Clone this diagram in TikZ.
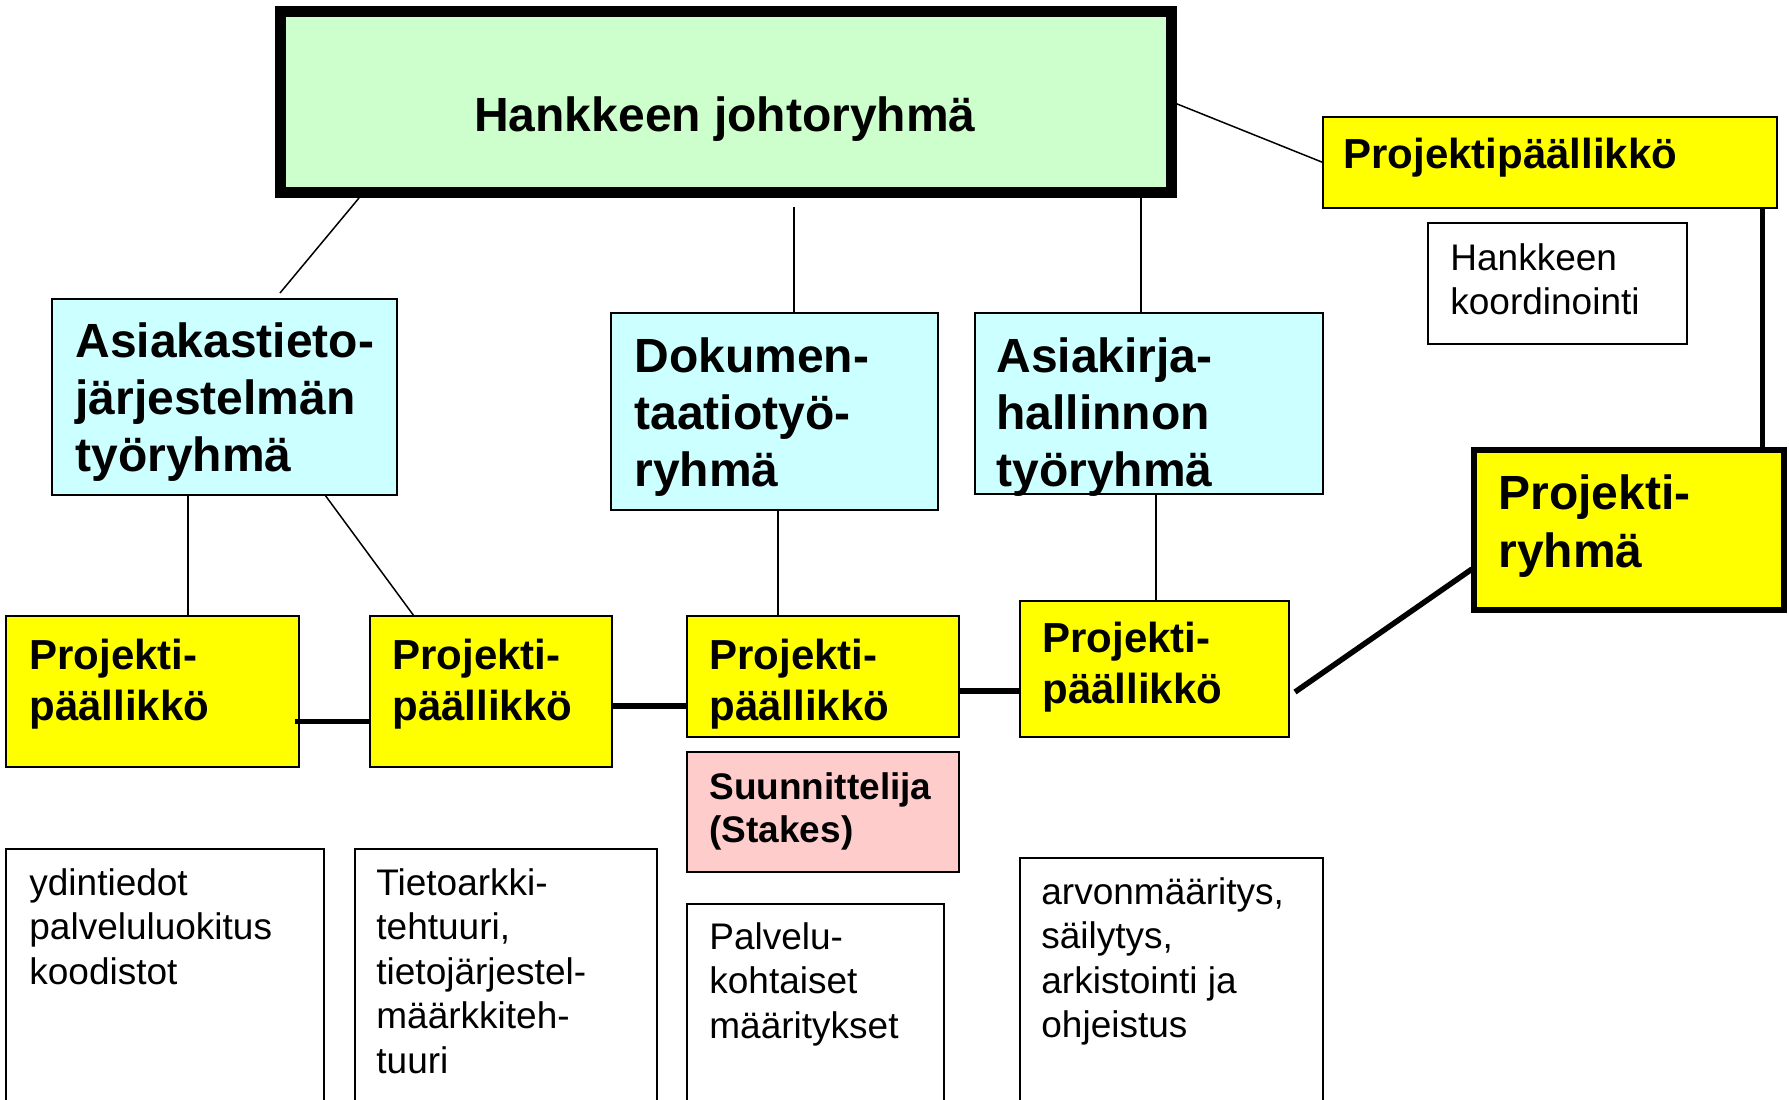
\documentclass[tikz,border=0pt]{standalone}
\usepackage{fontspec}
\setmainfont{Liberation Sans}
\usepackage{tikz}
\usetikzlibrary{positioning}
\usetikzlibrary{calc}
\definecolor{johtogreen}{RGB}{204,255,204}
\definecolor{tyocyan}{RGB}{204,255,255}
\definecolor{ppyellow}{RGB}{255,255,0}
\definecolor{suunpink}{RGB}{255,204,204}
\tikzstyle{chartbox} = [rectangle, draw=black, line width=1pt, inner sep=0pt, outer sep=0pt, anchor=north west]
\tikzstyle{board} = [chartbox, line width=5.5pt, fill=johtogreen]
\tikzstyle{workgroup} = [chartbox, fill=tyocyan]
\tikzstyle{manager} = [chartbox, fill=ppyellow]
\tikzstyle{projteam} = [chartbox, line width=3pt, fill=ppyellow]
\tikzstyle{designer} = [chartbox, fill=suunpink]
\tikzstyle{taskbox} = [chartbox, fill=white]
\tikzstyle{bigtext} = [inner sep=0pt, anchor=base west, align=left, font=\fontsize{24}{28.5}\selectfont\bfseries]
\tikzstyle{midtext} = [inner sep=0pt, anchor=base west, align=left, font=\fontsize{21}{25.5}\selectfont\bfseries]
\tikzstyle{smalltext} = [inner sep=0pt, anchor=base west, align=left, font=\fontsize{18.5}{21.5}\selectfont\bfseries]
\tikzstyle{plaintext} = [inner sep=0pt, anchor=base west, align=left, font=\fontsize{18.5}{22.25}\selectfont]
\tikzstyle{link} = [line width=0.75pt]
\tikzstyle{boldlink} = [line width=2.75pt]

\begin{document}
\begin{tikzpicture}[x=1pt, y=-1pt]
        \useasboundingbox (0,0) rectangle (894.5,549.5);

        % boxes
        \node (main) [board, minimum width=445.5pt, minimum height=90.5pt] at (140,5.5) {};
        \node (pptop) [manager, minimum width=227pt, minimum height=45.5pt] at (661.5,58.5) {};
        \node (koord) [taskbox, minimum width=129.5pt, minimum height=60.5pt] at (714,111.5) {};
        \node (asty) [workgroup, minimum width=172.5pt, minimum height=98pt] at (26,149.5) {};
        \node (doku) [workgroup, minimum width=163.5pt, minimum height=98.5pt] at (305.5,156.5) {};
        \node (akirja) [workgroup, minimum width=174pt, minimum height=90.5pt] at (487.5,156.5) {};
        \node (pryhma) [projteam, minimum width=155pt, minimum height=80pt] at (737,225) {};
        \node (pp1) [manager, minimum width=146.5pt, minimum height=75.5pt] at (3,308) {};
        \node (pp2) [manager, minimum width=121pt, minimum height=75.5pt] at (185,308) {};
        \node (pp3) [manager, minimum width=136pt, minimum height=60.5pt] at (343.5,308) {};
        \node (pp4) [manager, minimum width=134.5pt, minimum height=68pt] at (510,300.5) {};
        \node (suun) [designer, minimum width=136pt, minimum height=60pt, anchor=north, below=7.5pt of pp3] {};
        \node (ydin) [taskbox, minimum width=159pt, minimum height=140pt] at (3,424.5) {};
        \node (arkki) [taskbox, minimum width=151pt, minimum height=140pt] at (177.5,424.5) {};
        \node (palvelu) [taskbox, minimum width=128.5pt, minimum height=140pt] at (343.5,452) {};
        \node (arvon) [taskbox, minimum width=151.5pt, minimum height=140pt] at (510,429) {};

        % texts (anchored on the baseline of their last line)
        \node (mainT) [bigtext, anchor=base] at (362.5,65.5) {Hankkeen johtoryhmä};
        \node (pptopT) [midtext] at ($(pptop.north west)+(10,25.5)$) {Projektipäällikkö};
        \node (koordT) [plaintext] at ($(koord.north west)+(11,45.75)$) {Hankkeen\\koordinointi};
        \node (astyT) [bigtext] at ($(asty.north west)+(11.5,86)$) {Asiakastieto-\\järjestelmän\\työryhmä};
        \node (dokuT) [bigtext] at ($(doku.north west)+(11.5,86.5)$) {Dokumen-\\taatiotyö-\\ryhmä};
        \node (akirjaT) [bigtext] at ($(akirja.north west)+(10.5,86.5)$) {Asiakirja-\\hallinnon\\työryhmä};
        \node (pryhmaT) [bigtext, font=\fontsize{24}{29}\selectfont\bfseries] at ($(pryhma.north west)+(12,58.5)$) {Projekti-\\ryhmä};
        \node (pp1T) [midtext] at ($(pp1.north west)+(11.5,52)$) {Projekti-\\päällikkö};
        \node (pp2T) [midtext] at ($(pp2.north west)+(11,52)$) {Projekti-\\päällikkö};
        \node (pp3T) [midtext] at ($(pp3.north west)+(11,52)$) {Projekti-\\päällikkö};
        \node (pp4T) [midtext] at ($(pp4.north west)+(11,51)$) {Projekti-\\päällikkö};
        \node (suunT) [smalltext] at ($(suun.north west)+(11,45)$) {Suunnittelija\\(Stakes)};
        \node (ydinT) [plaintext] at ($(ydin.north west)+(11.5,67.5)$) {ydintiedot\\palveluluokitus\\koodistot};
        \node (arkkiT) [plaintext] at ($(arkki.north west)+(10.5,112)$) {Tietoarkki-\\tehtuuri,\\tietojärjestel-\\määrkkiteh-\\tuuri};
        \node (palveluT) [plaintext] at ($(palvelu.north west)+(11,67)$) {Palvelu-\\kohtaiset\\määritykset};
        \node (arvonT) [plaintext] at ($(arvon.north west)+(10.5,89.75)$) {arvonmääritys,\\säilytys,\\arkistointi ja\\ohjeistus};

        % thin links to the steering group and work groups
        \draw [link] ($(main.south west)+(39.5,3)$) -- ($(asty.north west)+(114,-3)$);
        \draw [link, shorten >=7.5pt] ($(doku.north west)+(91.5,0)$) coordinate (dokutop) -- (dokutop |- main.south);
        \draw [link] ($(akirja.north west)+(83,0)$) coordinate (akirjatop) -- (akirjatop |- main.south);
        \draw [link] (main.east) -- (pptop.west);
        \draw [link] ($(asty.south west)+(68,0)$) coordinate (astybot) -- (astybot |- pp1.north);
        \draw [link] ($(asty.south west)+(136.5,0)$) -- ($(pp2.north west)+(22,0)$);
        \draw [link] ($(doku.south west)+(83.5,0)$) coordinate (dokubot) -- (dokubot |- pp3.north);
        \draw [link] ($(akirja.south west)+(90.5,0)$) coordinate (akirjabot) -- (akirjabot |- pp4.north);

        % thick links between the project managers
        \draw [line width=2.5pt] ($(pptop.south east)+(-7.5,0)$) coordinate (pptopbot) -- (pptopbot |- pryhma.north);
        \draw [boldlink] ($(pp1.east)+(-2,15)$) coordinate (l1) -- (pp2.west |- l1);
        \draw [boldlink] ($(pp2.east)+(0,7.25)$) coordinate (l2) -- (pp3.west |- l2);
        \draw [boldlink] ($(pp3.east)+(0,7.25)$) coordinate (l3) -- (pp4.west |- l3);
        \draw [boldlink] ($(pp4.east)+(3,11.5)$) -- ($(pryhma.west)+(-1,19.5)$);
    \end{tikzpicture}
\end{document}
